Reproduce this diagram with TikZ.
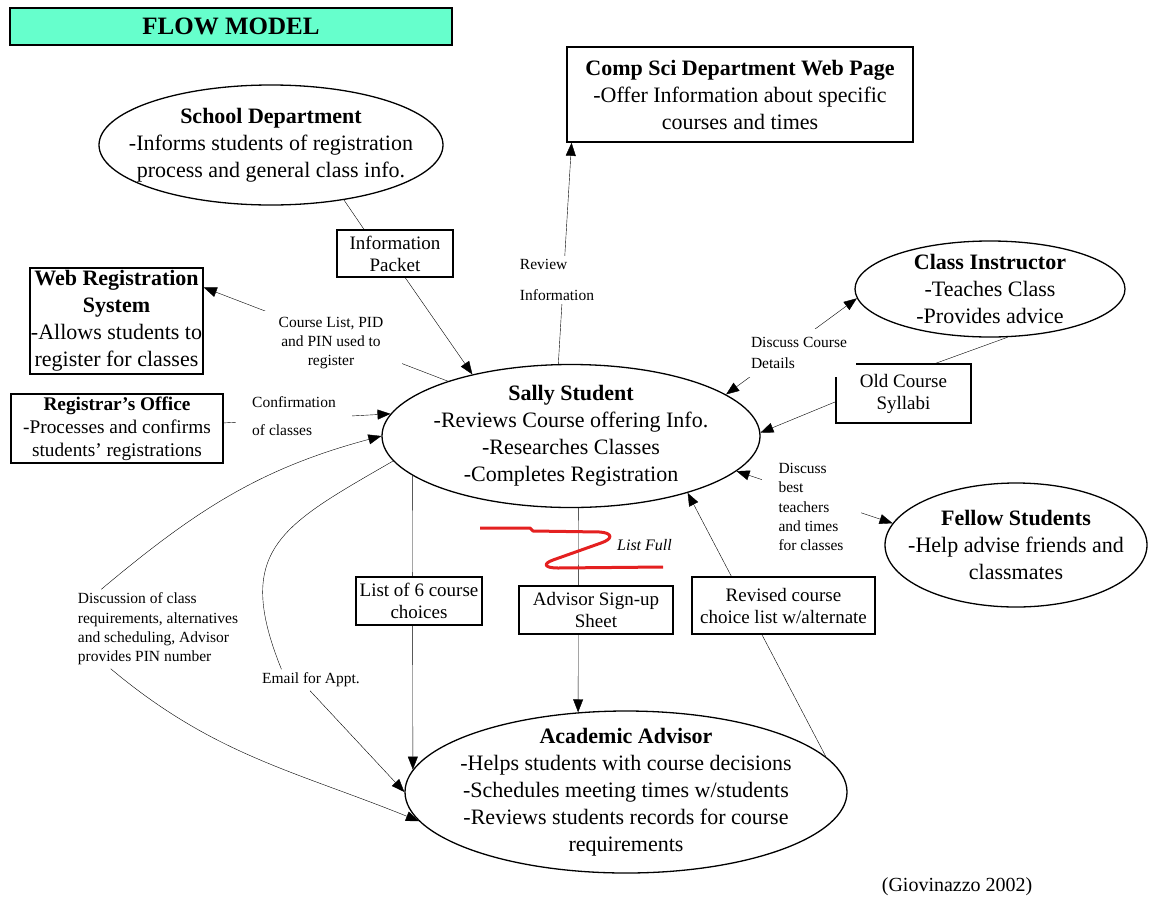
\documentclass[tikz,border=0pt]{standalone}
\usepackage{fontspec}
\setmainfont{Liberation Serif}
\usetikzlibrary{shapes.geometric,arrows.meta,backgrounds}

\definecolor{titlemint}{RGB}{102,255,204}
\definecolor{scribble}{RGB}{228,32,32}

\newcommand{\bodyfont}{\fontsize{22}{27}\selectfont}
\newcommand{\boxfont}{\fontsize{19}{22}\selectfont}
\newcommand{\lblfont}{\fontsize{15.5}{19.3}\selectfont}

\tikzset{
  entity/.style={ellipse, draw, line width=1.3pt, fill=white, inner sep=-50pt, align=center, font=\bodyfont},
  store/.style={rectangle, draw, line width=1.6pt, fill=white, inner sep=2pt, align=center, font=\boxfont},
  flowlbl/.style={fill=white, inner sep=3pt, align=left, font=\lblfont},
}

\begin{document}
\begin{tikzpicture}[x=1pt, y=-1pt, line width=1.3pt, >={Triangle[length=13pt,width=10pt]}]
\useasboundingbox (0,0) rectangle (1155,897);

% sources and sinks
\node[draw, line width=1.6pt, fill=titlemint, minimum width=442pt, minimum height=37pt, font=\fontsize{25}{30}\selectfont\bfseries] (title) at (231,26.5) {FLOW MODEL};
\node[store, font=\bodyfont, minimum width=346pt, minimum height=95pt] (compsci) at (740,94.5) {\textbf{Comp Sci Department Web Page}\\-Offer Information about specific\\courses and times};
\node[entity, minimum width=344pt, minimum height=120pt] (school) at (271,145) {\textbf{School Department}\\-Informs students of registration\\process and general class info.};
\node[store, minimum width=116pt, minimum height=47pt] (infopacket) at (395,253.5) {Information\\Packet};
\node[store, font=\bodyfont, inner sep=0pt, minimum width=173pt, minimum height=106pt] (webreg) at (116.5,321) {\textbf{Web Registration}\\\textbf{System}\\-Allows students to\\register for classes};
\node[store, font=\fontsize{19.3}{23}\selectfont, minimum width=212pt, minimum height=69pt] (registrar) at (117,428.5) {\textbf{Registrar's Office}\\-Processes and confirms\\students' registrations};
\node[entity, minimum width=378pt, minimum height=143pt] (sally) at (571,436) {\textbf{Sally Student}\\-Reviews Course offering Info.\\-Researches Classes\\-Completes Registration};
\node[entity, minimum width=270pt, minimum height=96pt] (classinst) at (990,289) {\textbf{Class Instructor}\\-Teaches Class\\-Provides advice};
\node[store, minimum width=135pt, minimum height=59pt] (oldsyl) at (903.5,393.5) {Old Course\\Syllabi};
\node[entity, minimum width=262pt, minimum height=124pt] (fellow) at (1016,545) {\textbf{Fellow Students}\\-Help advise friends and\\classmates};
\node[store, minimum width=126pt, minimum height=48pt] (listsix) at (419,601) {List of 6 course\\choices};
\node[store, minimum width=154pt, minimum height=48pt] (signup) at (596,610) {Advisor Sign-up\\Sheet};
\node[store, minimum width=183pt, minimum height=57pt] (revised) at (783.5,605.5) {Revised course\\choice list w/alternate};
\node[entity, minimum width=442pt, minimum height=162pt] (advisor) at (626,792) {\textbf{Academic Advisor}\\-Helps students with course decisions\\-Schedules meeting times w/students\\-Reviews students records for course\\requirements};

% flow labels
\node[flowlbl, align=center, inner xsep=19pt, inner ysep=6pt] (courselbl) at (331,343) {Course List, PID\\and PIN used to\\register};
\node[flowlbl, inner xsep=16pt] (confirmlbl) at (294,416) {Confirmation\\[9pt]of classes};
\node[flowlbl, inner ysep=4pt] (reviewlbl) at (557,280) {Review\\[11pt]Information};
\node[flowlbl, inner sep=9pt] (coursedet) at (799,353) {Discuss Course\\[1pt]Details};
\node[flowlbl, inner xsep=17pt] (besttlbl) at (811,507) {Discuss\\best\\teachers\\and times\\for classes};
\node[flowlbl] (discusslbl) at (158,629) {Discussion of class\\requirements, alternatives\\and scheduling, Advisor\\provides PIN number};
\node[flowlbl] (emaillbl) at (311,680) {Email for Appt.};
\node[font=\fontsize{16}{19}\selectfont\itshape, inner sep=1pt] (listfull) at (644.5,545) {List Full};
\node[anchor=east, font=\fontsize{20}{24}\selectfont, inner sep=0pt] (citation) at (1033,887) {(Giovinazzo 2002)};

% flows
\begin{scope}[on background layer]
\draw (school.-37) -- (infopacket.142);
\draw[->] (infopacket.-67) -- (sally.148);
\draw[->] (sally.100) -- (compsci.196);
\draw[->] (sally.156) -- (webreg.21);
\draw[->] (registrar.3.5) -- (sally.173);
\draw[<->] (sally.15) -- (classinst.184);
\draw (classinst.-70.5) -- (oldsyl.43);
\draw[->] (oldsyl.187) -- (sally.1);
\draw[<->] (sally.-12.5) -- (fellow.170);
\draw[->] (sally.194) -- (advisor.174.3);
\draw[->] (sally.-84.4) -- (advisor.121.6);
\draw[->] (advisor.10) -- (sally.-26.6);
\draw[->] (discusslbl.145) to[out=40,in=195] (sally.180);
\draw[->] (discusslbl.220) to[out=-40,in=158] (advisor.188);
\draw (sally.188) to[out=-150,in=112,looseness=1.4] (emaillbl.160);
\draw[->] (emaillbl.-95) -- (advisor.180);
\end{scope}

% list full scribble
\draw[scribble, line width=3pt, line join=round] (480,528) -- (530,528) -- (533,531) -- (600,532) .. controls (613,533) and (613,539) .. (601,543) -- (553,560) .. controls (542,564) and (545,568) .. (558,568) -- (663,567);
\end{tikzpicture}
\end{document}
